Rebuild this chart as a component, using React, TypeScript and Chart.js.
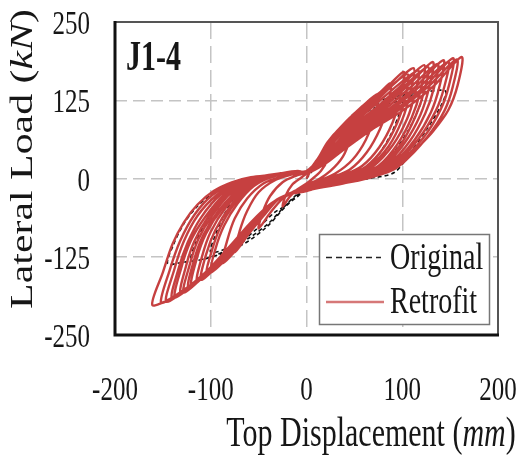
import React, { useEffect, useRef } from "react";
import { Chart, registerables } from "chart.js";

Chart.register(...registerables);

// Axis ticks
const xTicks = [-200, -100, 0, 100, 200];
const yTicks = [-250, -125, 0, 125, 250];

// Retrofit specimen: hysteresis path [top displacement (mm), lateral load (kN)]
const retrofitPath: number[][] = [
  [0, 0],
  // 25 mm
  [10, 28], [18, 40], [25, 50], [22, 30], [15, 12], [5, -2], [0, -8],
  [-10, -18], [-18, -30], [-25, -45], [-22, -28], [-15, -10], [-5, 2], [0, 8],
  // 50 mm
  [12, 32], [22, 58], [35, 80], [50, 95], [46, 65], [38, 35], [25, 12], [12, -2], [0, -10],
  [-12, -20], [-25, -32], [-38, -55], [-50, -80], [-46, -55], [-38, -28], [-25, -6], [-10, 5], [0, 10],
  // 75 mm
  [12, 30], [22, 55], [40, 88], [58, 115], [75, 135], [71, 100], [62, 62], [48, 30], [30, 8], [12, -4], [0, -12],
  [-15, -22], [-30, -34], [-45, -60], [-60, -88], [-75, -118], [-70, -85], [-62, -52], [-50, -22], [-32, -2], [-12, 8], [0, 12],
  // 88 mm
  [12, 30], [22, 57], [42, 92], [62, 120], [77, 138], [88, 152], [85, 118], [77, 80], [63, 42], [45, 14], [26, 2], [12, -4], [0, -13],
  [-15, -22], [-30, -34], [-45, -60], [-61, -89], [-77, -120], [-88, -135], [-83, -100], [-75, -64], [-62, -32], [-45, -8], [-25, 4], [-10, 9], [0, 12],
  // 100 mm
  [12, 30], [22, 58], [45, 96], [67, 124], [88, 152], [102, 170], [98, 130], [90, 90], [76, 50], [58, 20], [38, 5], [18, -5], [0, -14],
  [-15, -23], [-30, -34], [-46, -60], [-62, -90], [-80, -122], [-100, -150], [-95, -112], [-86, -75], [-72, -40], [-55, -12], [-35, 3], [-12, 10], [0, 12],
  [13, 29], [24, 56], [47, 94], [69, 122], [90, 150], [106, 166], [103, 128], [95, 90], [81, 50], [62, 19], [41, 4], [20, -5], [0, -14],
  [-15, -23], [-31, -34], [-47, -61], [-63, -90], [-83, -124], [-104, -152], [-99, -116], [-90, -78], [-76, -42], [-57, -12], [-36, 3], [-12, 10], [0, 11],
  // 110 mm
  [14, 28], [25, 55], [48, 92], [70, 120], [92, 152], [112, 176], [108, 135], [100, 94], [86, 52], [66, 20], [44, 4], [22, -6], [0, -15],
  [-16, -24], [-32, -35], [-48, -62], [-65, -92], [-86, -128], [-110, -162], [-105, -122], [-95, -82], [-80, -45], [-60, -12], [-38, 3], [-12, 10], [0, 11],
  [14, 28], [26, 54], [50, 90], [72, 118], [96, 150], [117, 172], [113, 134], [105, 95], [90, 53], [70, 20], [48, 4], [24, -6], [0, -15],
  [-16, -24], [-32, -35], [-49, -62], [-66, -93], [-89, -130], [-114, -164], [-109, -124], [-100, -85], [-84, -46], [-63, -13], [-40, 2], [-13, 10], [0, 11],
  // 120 mm
  [15, 27], [28, 52], [52, 88], [75, 116], [100, 150], [123, 181], [119, 140], [110, 98], [95, 55], [75, 20], [52, 4], [26, -6], [0, -16],
  [-17, -24], [-33, -36], [-50, -63], [-68, -95], [-92, -133], [-120, -172], [-115, -130], [-105, -88], [-88, -48], [-66, -14], [-42, 2], [-14, 10], [0, 11],
  [15, 26], [29, 51], [53, 86], [77, 114], [103, 149], [127, 178], [123, 140], [114, 100], [99, 56], [78, 21], [55, 4], [28, -6], [0, -16],
  [-17, -24], [-33, -36], [-51, -63], [-69, -96], [-94, -136], [-123, -174], [-118, -133], [-108, -91], [-91, -50], [-68, -14], [-43, 2], [-14, 10], [0, 10],
  // 130 mm
  [16, 26], [30, 50], [55, 85], [80, 113], [107, 150], [132, 186], [128, 145], [119, 102], [103, 58], [82, 22], [58, 5], [30, -6], [0, -17],
  [-18, -25], [-34, -37], [-52, -64], [-71, -97], [-97, -140], [-128, -182], [-122, -138], [-113, -97], [-98, -58], [-78, -22], [-52, -2], [-20, 8], [0, 9],
  [16, 25], [31, 49], [57, 83], [83, 112], [111, 149], [137, 183], [133, 144], [124, 104], [108, 60], [86, 23], [61, 5], [31, -6], [0, -17],
  [-18, -25], [-34, -37], [-53, -65], [-72, -98], [-99, -143], [-131, -183], [-126, -141], [-117, -100], [-102, -60], [-82, -24], [-56, -3], [-22, 8], [0, 9],
  // 140 mm
  [17, 25], [33, 48], [60, 82], [87, 112], [115, 148], [143, 189], [139, 148], [130, 106], [113, 62], [90, 24], [64, 5], [33, -7], [0, -18],
  [-19, -25], [-35, -38], [-54, -66], [-74, -100], [-102, -146], [-137, -190], [-131, -144], [-121, -100], [-106, -62], [-86, -26], [-62, -4], [-25, 8], [0, 9],
  [17, 24], [34, 47], [62, 81], [90, 111], [119, 148], [148, 186], [144, 147], [135, 108], [117, 63], [93, 25], [67, 4], [34, -7], [0, -18],
  [-19, -25], [-35, -38], [-55, -67], [-75, -102], [-104, -149], [-140, -191], [-134, -146], [-124, -102], [-110, -62], [-90, -26], [-66, -4], [-28, 8], [0, 8],
  // 150 mm
  [18, 24], [35, 46], [64, 80], [93, 110], [124, 148], [153, 192], [149, 150], [140, 110], [122, 65], [97, 26], [70, 4], [36, -8], [0, -19],
  [-20, -26], [-36, -39], [-56, -68], [-77, -104], [-107, -152], [-146, -197], [-138, -145], [-128, -100], [-114, -60], [-95, -28], [-72, -6], [-45, 3], [-18, 10], [0, 8],
  [18, 23], [36, 45], [66, 79], [96, 109], [128, 148], [157, 190], [153, 148], [144, 108], [126, 66], [100, 25], [72, 4], [38, -8], [0, -19],
  [-20, -26], [-36, -39], [-57, -69], [-78, -106], [-109, -155], [-138, -188], [-152, -198], [-143, -147], [-132, -100], [-117, -58], [-98, -26], [-74, -6], [-44, 3], [-15, 9], [0, 8],
  // 160 mm
  [19, 23], [37, 44], [68, 78], [100, 108], [133, 148], [162, 194], [158, 150], [148, 109], [132, 75], [118, 52], [100, 24], [85, 10], [67, 3], [46, 2], [22, -9], [0, -20],
  [-20, -26], [-37, -40], [-58, -70], [-80, -108], [-112, -160], [-140, -190], [-161, -202], [-150, -150], [-140, -105], [-128, -70], [-114, -42], [-97, -20], [-78, -6], [-58, 2], [-35, 6], [-9, 12], [0, 7],
];

// Original specimen: hysteresis path [top displacement (mm), lateral load (kN)]
const originalPath: number[][] = [
  [0, 0],
  [15, 30], [30, 62], [50, 95], [75, 115], [100, 122], [96, 100], [88, 70], [75, 38], [58, 12], [38, 2], [18, -6], [0, -14],
  [-12, -28], [-25, -48], [-40, -72], [-60, -95], [-80, -110], [-100, -118], [-96, -94], [-88, -64], [-76, -32], [-58, -8], [-38, 2], [-15, 8], [0, 10],
  [15, 30], [30, 62], [50, 100], [80, 122], [120, 132], [116, 108], [106, 76], [90, 40], [70, 12], [45, 0], [20, -7], [0, -16],
  [-12, -30], [-25, -50], [-42, -78], [-65, -104], [-92, -122], [-120, -130], [-116, -104], [-106, -72], [-92, -40], [-70, -10], [-45, 2], [-18, 8], [0, 10],
  [15, 32], [30, 64], [50, 104], [85, 128], [120, 137], [145, 140], [141, 118], [127, 82], [110, 45], [92, 10], [65, 0], [35, -6], [0, -18],
  [-12, -32], [-25, -46], [-34, -55], [-50, -78], [-75, -108], [-105, -128], [-130, -134], [-145, -136], [-139, -106], [-128, -72], [-115, -46], [-98, -24], [-76, -7], [-45, 3], [-18, 8], [0, 10],
];

const seriesNames = ["Original", "Retrofit"];
const panelLabel = "J1-4";

const FAMILY = '"Liberation Serif", "Times New Roman", serif';
const SY = 1.38;
const INK = "#161616";
const RED = "rgb(198,64,64)";

type Part = { t: string; style?: string };

function drawParts(
  ctx: CanvasRenderingContext2D,
  parts: Part[],
  size: number,
  x: number,
  y: number,
  align: "left" | "center" | "right",
  sx: number,
  sy: number,
  rot = 0
) {
  ctx.save();
  ctx.translate(x, y);
  if (rot) ctx.rotate(rot);
  ctx.scale(sx, sy);
  ctx.textBaseline = "alphabetic";
  ctx.textAlign = "left";
  ctx.fillStyle = INK;
  const widths = parts.map((p) => {
    ctx.font = `${p.style ?? ""} ${size}px ${FAMILY}`;
    return ctx.measureText(p.t).width;
  });
  const total = widths.reduce((a, b) => a + b, 0);
  let cx = align === "left" ? 0 : align === "center" ? -total / 2 : -total;
  parts.forEach((p, i) => {
    ctx.font = `${p.style ?? ""} ${size}px ${FAMILY}`;
    ctx.fillText(p.t, cx, 0);
    cx += widths[i];
  });
  ctx.restore();
}

const decorPlugin = {
  id: "decor",
  afterDraw(chart: any) {
    const ctx: CanvasRenderingContext2D = chart.ctx;
    const { left, right, top, bottom } = chart.chartArea;
    const xs = chart.scales.x;
    const ys = chart.scales.y;

    // top and right frame
    ctx.save();
    ctx.strokeStyle = "#555";
    ctx.lineWidth = 2;
    ctx.beginPath();
    ctx.moveTo(left, top);
    ctx.lineTo(right, top);
    ctx.lineTo(right, bottom);
    ctx.stroke();
    // left & bottom heavy frame
    ctx.strokeStyle = "#111";
    ctx.lineWidth = 3;
    ctx.beginPath();
    ctx.moveTo(left, top - 1);
    ctx.lineTo(left, bottom);
    ctx.lineTo(right + 1, bottom);
    ctx.stroke();
    ctx.restore();

    // tick labels
    yTicks.forEach((v) => {
      drawParts(ctx, [{ t: String(v) }], 25, 90, ys.getPixelForValue(v) + 12, "right", 1, SY);
    });
    xTicks.forEach((v) => {
      drawParts(ctx, [{ t: String(v) }], 25, xs.getPixelForValue(v), 400, "center", 1, SY);
    });

    // axis titles
    drawParts(
      ctx,
      [{ t: "Top Displacement (" }, { t: "mm", style: "italic" }, { t: ")" }],
      30,
      371,
      446,
      "center",
      1,
      SY
    );
    drawParts(
      ctx,
      [{ t: "Lateral Load (" }, { t: "kN", style: "italic" }, { t: ")" }],
      31,
      32,
      159,
      "center",
      1.35,
      1,
      -Math.PI / 2
    );

    // panel label
    drawParts(ctx, [{ t: panelLabel, style: "bold" }], 30, 126, 70, "left", 1, SY);

    // legend
    ctx.save();
    ctx.fillStyle = "#fff";
    ctx.fillRect(319.5, 234.5, 170, 90);
    ctx.strokeStyle = "#777";
    ctx.lineWidth = 1.5;
    ctx.strokeRect(319.5, 234.5, 170, 90);
    ctx.strokeStyle = "#222";
    ctx.lineWidth = 1.5;
    ctx.setLineDash([6, 4]);
    ctx.beginPath();
    ctx.moveTo(326, 257.5);
    ctx.lineTo(381, 257.5);
    ctx.stroke();
    ctx.setLineDash([]);
    ctx.strokeStyle = "rgb(214,120,120)";
    ctx.lineWidth = 2.5;
    ctx.beginPath();
    ctx.moveTo(326, 302);
    ctx.lineTo(384, 302);
    ctx.stroke();
    ctx.restore();
    drawParts(ctx, [{ t: seriesNames[0] }], 28, 390, 269, "left", 1, SY);
    drawParts(ctx, [{ t: seriesNames[1] }], 28, 390, 313, "left", 1, SY);
  },
};

export default function App() {
  const ref = useRef<HTMLCanvasElement | null>(null);

  useEffect(() => {
    if (!ref.current) return;
    const gridColor = (lim: number) => (c: any) =>
      Math.abs(c.tick?.value) >= lim ? "rgba(0,0,0,0)" : "#c4c4c4";
    const chart = new Chart(ref.current, {
      type: "scatter",
      data: {
        datasets: [
          {
            label: seriesNames[1],
            data: retrofitPath.map(([x, y]) => ({ x, y })),
            showLine: true,
            borderColor: RED,
            borderWidth: 2.4,
            pointRadius: 0,
            tension: 0.3,
          },
          {
            label: seriesNames[0],
            data: originalPath.map(([x, y]) => ({ x, y })),
            showLine: true,
            borderColor: "#111",
            borderWidth: 1.6,
            borderDash: [4, 3],
            pointRadius: 0,
            tension: 0.3,
          },
        ],
      },
      options: {
        animation: false,
        responsive: false,
        devicePixelRatio: 1,
        layout: { padding: { left: 115, top: 22, right: 29, bottom: 127 } },
        plugins: { legend: { display: false }, tooltip: { enabled: false } },
        scales: {
          x: {
            type: "linear",
            min: -200,
            max: 200,
            ticks: { display: false, stepSize: 100 },
            grid: { color: gridColor(200), lineWidth: 1.5, drawTicks: false },
            border: { display: false, dash: [17, 7] },
          },
          y: {
            type: "linear",
            min: -250,
            max: 250,
            ticks: { display: false, stepSize: 125 },
            grid: { color: gridColor(250), lineWidth: 1.5, drawTicks: false },
            border: { display: false, dash: [12, 6] },
          },
        },
      },
      plugins: [decorPlugin],
    });
    return () => chart.destroy();
  }, []);

  return (
    <div style={{ position: "fixed", left: 0, top: 0, width: 527, height: 462, background: "#fff" }}>
      <canvas ref={ref} width={527} height={462} style={{ display: "block" }} />
    </div>
  );
}
